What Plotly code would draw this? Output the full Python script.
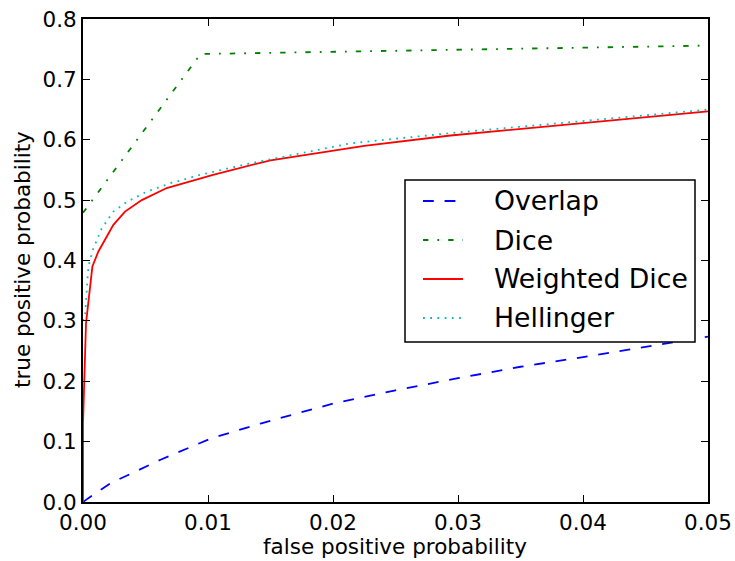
import plotly.graph_objects as go

# Overlap (blue dashed)
overlap_x = [0.0, 0.0004, 0.0022, 0.0062, 0.0102, 0.0142, 0.020, 0.025, 0.030, 0.035, 0.040, 0.045, 0.050]
overlap_y = [0.0, 0.006, 0.031, 0.070, 0.105, 0.130, 0.163, 0.185, 0.205, 0.224, 0.240, 0.257, 0.274]

# Dice (green dash-dot)
dice_x = [0.0, 0.0094, 0.050]
dice_y = [0.479, 0.742, 0.756]

# Weighted Dice (red solid)
wdice_x = [0.0, 0.0, 0.00024, 0.00075, 0.00123, 0.00243, 0.00336, 0.0047, 0.0067, 0.0104, 0.0150, 0.0225, 0.0294, 0.034, 0.040, 0.050]
wdice_y = [0.0, 0.13, 0.296, 0.390, 0.415, 0.459, 0.481, 0.500, 0.520, 0.542, 0.566, 0.590, 0.607, 0.616, 0.627, 0.647]

# Hellinger (cyan dotted)
hell_x = [0.0, 0.00016, 0.00043, 0.00083, 0.0015, 0.00243, 0.0035, 0.0051, 0.0070, 0.0094, 0.0134, 0.0214, 0.0294, 0.034, 0.040, 0.050]
hell_y = [0.30, 0.307, 0.390, 0.420, 0.453, 0.481, 0.497, 0.514, 0.528, 0.542, 0.561, 0.594, 0.611, 0.620, 0.631, 0.650]

series_names = ["Overlap", "Dice", "Weighted Dice", "Hellinger"]

x_ticks = [0.0, 0.01, 0.02, 0.03, 0.04, 0.05]
x_ticklabels = ["0.00", "0.01", "0.02", "0.03", "0.04", "0.05"]
y_ticks = [0.0, 0.1, 0.2, 0.3, 0.4, 0.5, 0.6, 0.7, 0.8]
y_ticklabels = ["0.0", "0.1", "0.2", "0.3", "0.4", "0.5", "0.6", "0.7", "0.8"]

x_title = "false positive probability"
y_title = "true positive probability"

FONT = "DejaVu Sans"
TICK_SIZE = 21.5
TITLE_SIZE = 21.5
LEGEND_SIZE = 26.7

colors = ["#0000ff", "#008000", "#ff0000", "#00bfbf"]
dashes = ["10.8px,10.8px", "5.4px,9px,1.8px,9px", "solid", "1.8px,5.4px"]
LW = 1.8

fig = go.Figure()
for xs, ys, name, c, d in zip([overlap_x, dice_x, wdice_x, hell_x],
                              [overlap_y, dice_y, wdice_y, hell_y],
                              series_names, colors, dashes):
    fig.add_trace(go.Scatter(x=xs, y=ys, mode="lines", name=name, showlegend=False,
                             line=dict(color=c, width=LW, dash=d)))

axis_common = dict(showgrid=False, zeroline=False, showline=True, linecolor="black", linewidth=1.8,
                   mirror="allticks", ticks="inside", ticklen=7, tickwidth=1, tickcolor="black",
                   automargin=False,
                   tickfont=dict(family=FONT, size=TICK_SIZE, color="black"))

fig.update_xaxes(range=[0, 0.05], tickvals=x_ticks, ticktext=x_ticklabels, **axis_common)
fig.update_yaxes(range=[0, 0.8], tickvals=y_ticks, ticktext=y_ticklabels, **axis_common)

# Legend box (matplotlib-style), in paper coordinates
leg_x0, leg_x1, leg_y0, leg_y1 = 0.5152, 0.9792, 0.3313, 0.6667
row_y = [0.6232, 0.5424, 0.4617, 0.3810]
sw_x0, sw_x1, txt_x = 0.544, 0.608, 0.6544

shapes = [dict(type="rect", xref="paper", yref="paper", x0=leg_x0, x1=leg_x1, y0=leg_y0, y1=leg_y1,
               line=dict(color="black", width=1.5), fillcolor="white", layer="above")]
annotations = []
for name, c, d, ry in zip(series_names, colors, dashes, row_y):
    shapes.append(dict(type="line", xref="paper", yref="paper", x0=sw_x0, x1=sw_x1, y0=ry, y1=ry,
                       line=dict(color=c, width=LW, dash=d), layer="above"))
    annotations.append(dict(text=name, xref="paper", yref="paper", x=txt_x, y=ry,
                            xanchor="left", yanchor="middle", showarrow=False,
                            font=dict(family=FONT, size=LEGEND_SIZE, color="black")))

annotations.append(dict(text=x_title, xref="paper", yref="paper", x=0.4992, y=-0.0911,
                        xanchor="center", yanchor="middle", showarrow=False,
                        font=dict(family=FONT, size=TITLE_SIZE, color="black")))
annotations.append(dict(text=y_title, xref="paper", yref="paper", x=-0.0976, y=0.501,
                        xanchor="center", yanchor="middle", showarrow=False, textangle=-90,
                        font=dict(family=FONT, size=TITLE_SIZE, color="black")))

fig.update_layout(
    width=735, height=561,
    margin=dict(l=83, r=27, t=19, b=59),
    plot_bgcolor="white", paper_bgcolor="white",
    font=dict(family=FONT, size=TICK_SIZE, color="black"),
    showlegend=False,
    shapes=shapes,
    annotations=annotations,
)

fig.write_html("out.html", config={"displayModeBar": False},
               post_script="document.body.style.margin='0';document.body.style.overflow='hidden';")
